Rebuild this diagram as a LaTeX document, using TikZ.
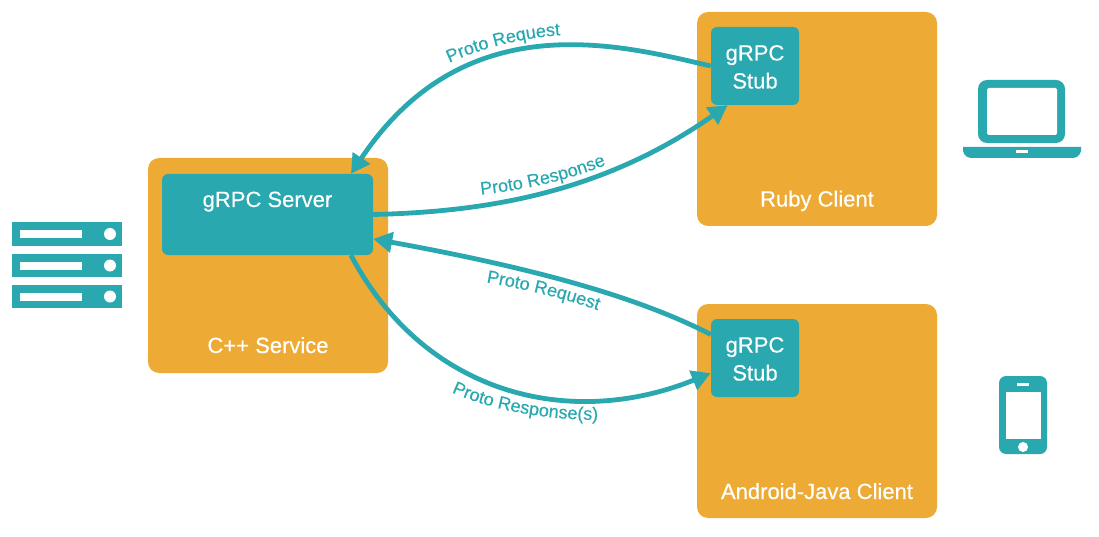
\documentclass[tikz,border=0pt]{standalone}
\usepackage{fontspec}
\setmainfont{Liberation Sans}
\newfontfamily\medfont[FakeBold=0.35]{Liberation Sans}
\usetikzlibrary{arrows.meta,decorations.text}
\definecolor{boxorange}{HTML}{EDAB36}
\definecolor{teal2}{HTML}{29A8B0}
\newcommand{\flowfont}{\fontsize{18}{22}\selectfont\medfont\color{teal2}}
\tikzset{
  x=1pt,y=-1pt,
  outerbox/.style={fill=boxorange,rounded corners=11pt,minimum width=240pt,minimum height=214pt,inner sep=0pt},
  innerbox/.style={fill=teal2,rounded corners=6pt,inner sep=0pt},
  whitetext/.style={text=white,font=\fontsize{22}{27}\selectfont\medfont,inner sep=0pt,align=center},
  flowlabel/.style={decorate,decoration={text along path,text align=center,raise=0pt,text={#1}}},
  flow/.style={draw=teal2,line width=4.8pt,-{Triangle[length=19pt,width=20pt]}},
  icon/.style={fill=teal2,draw=none},
  hole/.style={fill=white,draw=none},
}
\begin{document}
\begin{tikzpicture}
\useasboundingbox (0,0) rectangle (1099,537);
% outer boxes
\node[outerbox,minimum height=215pt] (cpp) at (268,265.5) {};
\node[outerbox] (ruby) at (817,119) {};
\node[outerbox] (android) at (817,411) {};
% inner boxes
\node[innerbox,minimum width=211pt,minimum height=81pt] (server) at (267.5,214.5) {};
\node[innerbox,minimum width=88pt,minimum height=78pt] (stubA) at (755,66) {};
\node[innerbox,minimum width=88pt,minimum height=78pt] (stubB) at (755,358) {};
% texts in boxes
\node[whitetext,anchor=base] (stubAtext) at (755,88.5) {gRPC\\[1pt]Stub};
\node[whitetext,anchor=base] (stubBtext) at (755,380.5) {gRPC\\[1pt]Stub};
\node[whitetext,anchor=base] (servertext) at (267.5,207) {gRPC Server};
\node[whitetext,anchor=base] (cpptext) at (268,353) {C++ Service};
\node[whitetext,anchor=base] (rubytext) at (817,206.5) {Ruby Client};
\node[whitetext,anchor=base] (androidtext) at (817,499) {Android-Java Client};
% connectors
\draw[flow] (stubA.west) .. controls (620,45) and (465,3) .. (server.26);
\draw[flow] (server.east) .. controls (480,212) and (600,195) .. (stubA.235);
\draw[flow] (stubB.152) .. controls (625,290) and (500,262) .. (server.-13.6);
\draw[flow] (server.-26) .. controls (425,395) and (570,430) .. (stubB.199);
% connector labels, set along curves
\path[flowlabel={|\flowfont|Proto Request}] (447,64) .. controls (481,48) and (521,38) .. (563,35);
\path[flowlabel={|\flowfont|Proto Response}] (479,195) .. controls (525,190) and (570,180) .. (608,164);
\path[flowlabel={|\flowfont|Proto Request}] (484,282) .. controls (523,289) and (560,297) .. (600,311);
\path[flowlabel={|\flowfont|Proto Response(s)}] (449,391) .. controls (484,408) and (539,420) .. (601,420);
% server icon
\fill[icon] (12,222) rectangle (122,246);
\fill[icon] (12,254) rectangle (122,277);
\fill[icon] (12,285) rectangle (122,308);
\fill[hole] (20,230) rectangle (82,238);
\fill[hole] (20,261.5) rectangle (82,269.5);
\fill[hole] (20,293) rectangle (82,301);
\fill[hole] (110,234) circle[radius=6];
\fill[hole] (110,265.5) circle[radius=6];
\fill[hole] (110,296.5) circle[radius=6];
% laptop icon
\fill[icon,rounded corners=9pt] (978,80) rectangle (1065,143);
\fill[hole,rounded corners=1.5pt] (987,88) rectangle (1057,135);
\fill[icon] (963,147) -- (1081,147) -- (1081,151) .. controls (1080,156) and (1076,158) .. (1072,158) -- (972,158) .. controls (968,158) and (964,156) .. (963,151) -- cycle;
\fill[hole] (1016,150) rectangle (1028,153);
% phone icon
\fill[icon,rounded corners=7pt] (999,376) rectangle (1047,454);
\fill[hole] (1006,392) rectangle (1041,439);
\fill[hole] (1017,383) rectangle (1029,386);
\fill[hole] (1023,447) circle[radius=5];
\end{tikzpicture}
\end{document}
